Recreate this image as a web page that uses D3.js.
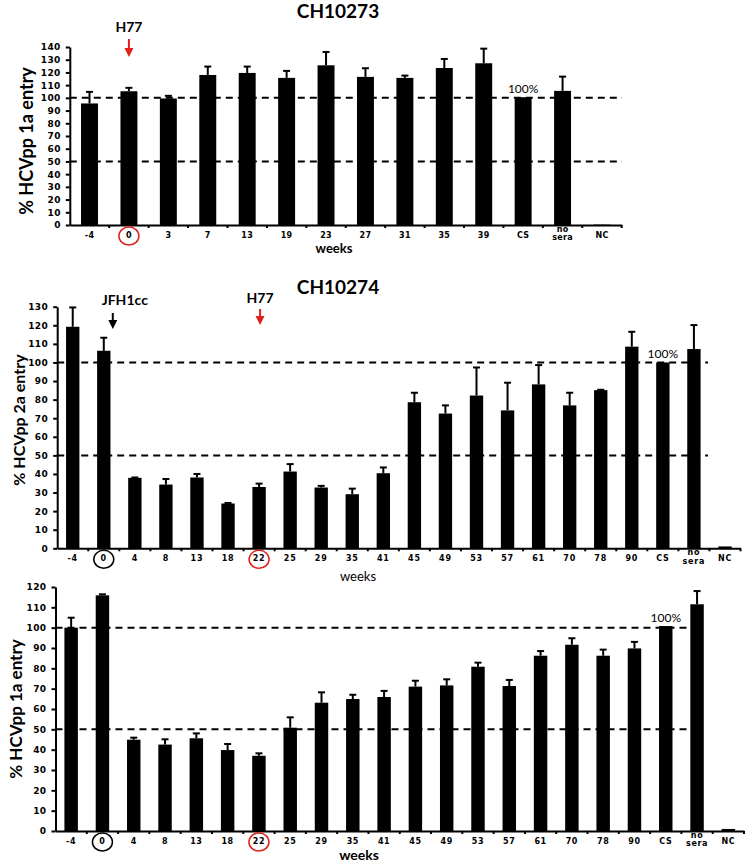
<!DOCTYPE html>
<html>
<head>
<meta charset="utf-8">
<script src="https://cdn.jsdelivr.net/npm/d3@7"></script>
<style>
  body { margin: 0; background: #fff; }
  svg { display: block; }
  .tick text { font-family: "DejaVu Sans", sans-serif; font-weight: bold; fill: #000; }
  .lbl { font-family: Lato, "Open Sans", sans-serif; fill: #000; }
</style>
</head>
<body>
<svg id="chart" width="752" height="864"></svg>
<script>
// ---- data ----
const weeks1 = ["-4", "0", "3", "7", "13", "19", "23", "27", "31", "35", "39", "CS", "no sera", "NC"];
const entry1 = [95.6, 105.2, 99.5, 118, 119.6, 115.7, 125.6, 116.5, 115.7, 123.5, 127.2, 100.5, 105.5, 0.3];
const sd1 = [9.1, 2.7, 2.1, 6.6, 5, 5.5, 10.5, 6.8, 1.8, 7.1, 11.5, 0, 11.2, 0];

const weeks2 = ["-4", "0", "4", "8", "13", "18", "22", "25", "29", "35", "41", "45", "49", "53", "57", "61", "70", "78", "90", "CS", "no sera", "NC"];
const entry2 = [119.2, 106.3, 37.9, 34.3, 38.1, 24.1, 33, 41.3, 32.7, 29.1, 40.4, 78.6, 72.5, 82.2, 74.2, 88.2, 76.9, 85.1, 108.5, 100, 107.2, 1];
const sd2 = [10.4, 7, 0.2, 3, 1.9, 0.3, 1.8, 4, 0.9, 3, 3.1, 5.1, 4.4, 15.1, 14.9, 10.4, 6.8, 0.2, 8, 0, 12.9, 0];

const weeks3 = weeks2;
const entry3 = [100, 115.9, 44.9, 42.5, 45.6, 39.8, 37, 50.8, 63.1, 64.9, 65.9, 71, 71.6, 80.8, 71.3, 86.2, 91.6, 86.2, 89.8, 100.8, 111.5, 1];
const sd3 = [4.9, 0.5, 1, 2.6, 2.4, 3, 1.2, 5.1, 5.1, 2.1, 3, 2.9, 3, 2, 3, 2.3, 3.2, 3, 3.2, 0, 6.5, 0];

const refLevels = [100, 50];

const svg = d3.select("#chart");

function drawPanel(opt) {
  const g = svg.append("g");
  const x = d3.scaleBand().domain(opt.cats).range([opt.left, opt.right])
    .paddingInner(0.57).paddingOuter(0.285);
  const y = d3.scaleLinear().domain([0, opt.max]).range([opt.bottom, opt.top]);
  const cx = c => x(c) + x.bandwidth() / 2;
  const rows = opt.cats.map((c, i) => ({ c, v: opt.values[i], e: opt.sd[i] }));

  // dashed reference lines
  g.selectAll(".ref").data(refLevels).join("line").attr("class", "ref")
    .attr("x1", opt.left).attr("x2", opt.refEnd)
    .attr("y1", d => y(d)).attr("y2", d => y(d))
    .attr("stroke", "#000").attr("stroke-width", 2).attr("stroke-dasharray", "7,5");

  // bars
  g.selectAll(".bar").data(rows).join("rect").attr("class", "bar")
    .attr("x", d => x(d.c)).attr("width", x.bandwidth())
    .attr("y", d => y(d.v)).attr("height", d => opt.bottom - y(d.v))
    .attr("fill", "#000");

  // upper error bars
  const eb = rows.filter(d => d.e > 0);
  g.selectAll(".err").data(eb).join("line").attr("class", "err")
    .attr("x1", d => cx(d.c)).attr("x2", d => cx(d.c))
    .attr("y1", d => y(d.v)).attr("y2", d => y(d.v + d.e))
    .attr("stroke", "#000").attr("stroke-width", 2);
  g.selectAll(".cap").data(eb).join("line").attr("class", "cap")
    .attr("x1", d => cx(d.c) - 3.5).attr("x2", d => cx(d.c) + 3.5)
    .attr("y1", d => y(d.v + d.e)).attr("y2", d => y(d.v + d.e))
    .attr("stroke", "#000").attr("stroke-width", 2);

  // y axis
  const ya = g.append("g").attr("transform", `translate(${opt.left},0)`)
    .call(d3.axisLeft(y).tickValues(d3.range(0, opt.max + 1, 10)).tickSize(4).tickSizeOuter(0).tickPadding(5));
  ya.selectAll("text").attr("font-size", 9).attr("letter-spacing", 0.4);
  ya.selectAll("line").attr("stroke-width", 2);
  ya.select(".domain").attr("stroke-width", 2);

  // x axis
  const xa = g.append("g").attr("transform", `translate(0,${opt.bottom})`)
    .call(d3.axisBottom(x).tickSize(0).tickSizeOuter(0).tickPadding(7));
  xa.select(".domain").attr("stroke-width", 2);
  xa.selectAll("text").attr("font-size", opt.xFont).attr("letter-spacing", opt.xSpace)
    .each(function (d) {
      if (d === "no sera") {
        const t = d3.select(this).text(null);
        t.append("tspan").attr("x", 0).attr("dy", 0).text("no");
        t.append("tspan").attr("x", 0).attr("dy", "1.05em").text("sera");
      }
    });
  // small boundary ticks
  g.selectAll(".bt").data(d3.range(1, opt.cats.length + 1)).join("line").attr("class", "bt")
    .attr("x1", i => opt.left + i * x.step()).attr("x2", i => opt.left + i * x.step())
    .attr("y1", opt.bottom).attr("y2", opt.bottom + 3)
    .attr("stroke", "#000").attr("stroke-width", 2);

  // circles around week labels
  g.selectAll(".ring").data(opt.rings).join("ellipse").attr("class", "ring")
    .attr("cx", d => cx(d.cat)).attr("cy", opt.bottom + 11)
    .attr("rx", 10).attr("ry", 9)
    .attr("fill", "none").attr("stroke", d => d.color).attr("stroke-width", 1.5);

  // 100% label over CS
  g.append("text").attr("class", "lbl")
    .attr("x", cx("CS")).attr("y", y(opt.values[opt.cats.indexOf("CS")]) - 4)
    .attr("text-anchor", "middle").attr("font-size", 12).text("100%");

  // arrows and inoculation labels
  opt.arrows.forEach(a => {
    const ax = cx(a.cat) + a.dx;
    g.append("line").attr("x1", ax).attr("x2", ax).attr("y1", a.y0).attr("y2", a.y1 - 7)
      .attr("stroke", a.color).attr("stroke-width", 2);
    g.append("path")
      .attr("d", `M${ax - 4.5},${a.y1 - 9}L${ax + 4.5},${a.y1 - 9}L${ax},${a.y1}Z`)
      .attr("fill", a.color);
    g.append("text").attr("class", "lbl")
      .attr("x", cx(a.cat) + a.tdx).attr("y", a.ty)
      .attr("text-anchor", "middle").attr("font-size", 14).attr("font-weight", "bold")
      .text(a.label);
  });

  // y label
  g.append("text").attr("class", "lbl")
    .attr("transform", `translate(${opt.yLabelX},${opt.yLabelY}) rotate(-90)`)
    .attr("text-anchor", "middle").attr("dominant-baseline", "central")
    .attr("font-size", opt.yLabelSize).attr("font-weight", "bold").text(opt.yLabel);

  // x label
  g.append("text").attr("class", "lbl")
    .attr("x", opt.wx).attr("y", opt.wy).attr("text-anchor", "middle")
    .attr("font-size", opt.wSize).attr("font-weight", opt.wWeight).text("weeks");

  if (opt.title) {
    g.append("text").attr("class", "lbl")
      .attr("x", 338).attr("y", opt.titleY).attr("text-anchor", "middle")
      .attr("font-size", 19).attr("font-weight", "bold").text(opt.title);
  }
}

drawPanel({
  cats: weeks1, values: entry1, sd: sd1, max: 140,
  left: 69.8, right: 621.7, bottom: 225, top: 47, refEnd: 622,
  xFont: 8, xSpace: 0.3,
  rings: [{ cat: "0", color: "#e0201b" }],
  arrows: [{ cat: "0", dx: 0, y0: 39, y1: 57, color: "#e0201b", label: "H77", tdx: 0, ty: 32 }],
  yLabel: "% HCVpp 1a entry", yLabelX: 26, yLabelY: 141, yLabelSize: 18,
  wx: 334, wy: 253, wSize: 13, wWeight: "bold",
  title: "CH10273", titleY: 18
});

drawPanel({
  cats: weeks2, values: entry2, sd: sd2, max: 130,
  left: 57.2, right: 740.5, bottom: 548.3, top: 306.7, refEnd: 708,
  xFont: 8, xSpace: 0.8,
  rings: [{ cat: "0", color: "#000" }, { cat: "22", color: "#e0201b" }],
  arrows: [
    { cat: "0", dx: 9, y0: 313, y1: 329, color: "#000", label: "JFH1cc", tdx: 21, ty: 305 },
    { cat: "22", dx: 1, y0: 309, y1: 325, color: "#e0201b", label: "H77", tdx: 1, ty: 303 }
  ],
  yLabel: "% HCVpp 2a entry", yLabelX: 18, yLabelY: 420, yLabelSize: 16,
  wx: 358, wy: 581, wSize: 13, wWeight: "normal",
  title: "CH10274", titleY: 294
});

drawPanel({
  cats: weeks3, values: entry3, sd: sd3, max: 120,
  left: 55.5, right: 744, bottom: 831, top: 587, refEnd: 691,
  xFont: 8, xSpace: 0.6,
  rings: [{ cat: "0", color: "#000" }, { cat: "22", color: "#e0201b" }],
  arrows: [],
  yLabel: "% HCVpp 1a entry", yLabelX: 15, yLabelY: 709, yLabelSize: 17,
  wx: 359, wy: 860, wSize: 14, wWeight: "bold",
  title: null
});
</script>
</body>
</html>
